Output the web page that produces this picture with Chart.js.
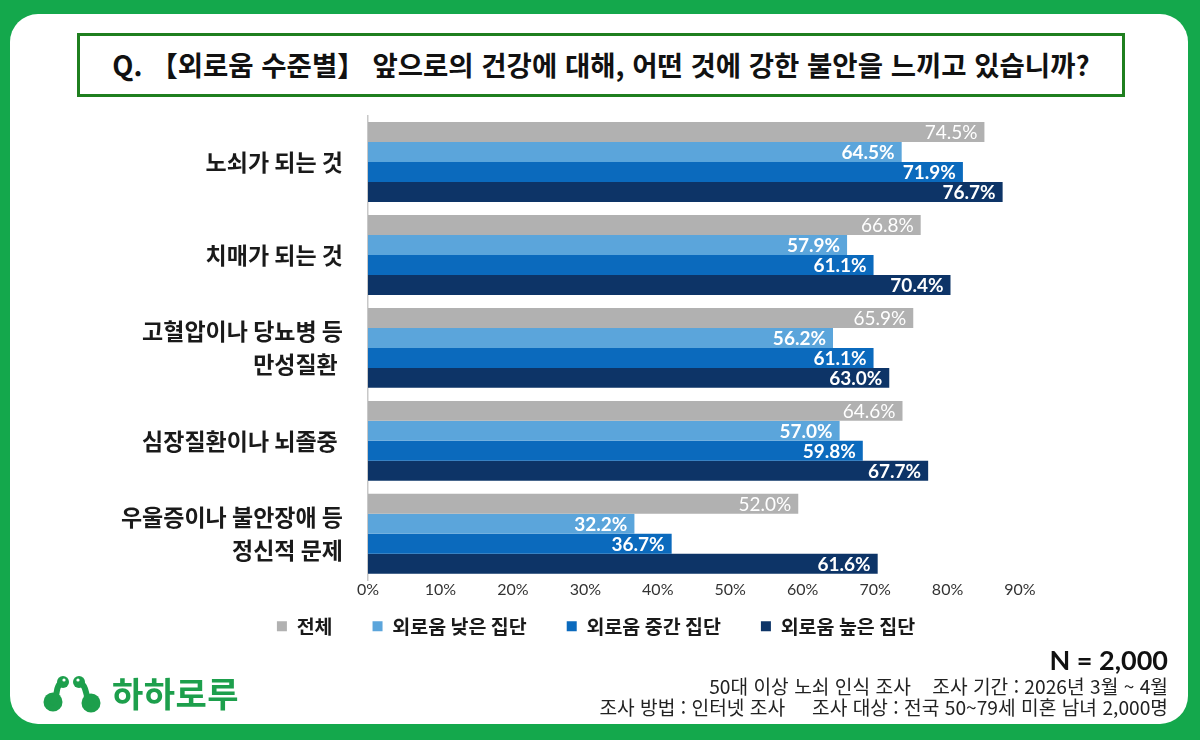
<!DOCTYPE html>
<html lang="ko">
<head>
<meta charset="utf-8">
<script src="https://cdn.jsdelivr.net/npm/chart.js@4.4.1/dist/chart.umd.min.js"></script>
<style>
  html, body { margin: 0; padding: 0; }
  body { width: 1200px; height: 740px; background: #14a84c; position: relative; overflow: hidden;
         font-family: "Noto Sans CJK KR", "Noto Sans", sans-serif; }
  .frame { position: absolute; left: 10px; top: 14px; width: 1178px; height: 710px; background: #fff; border-radius: 28px; }
  .qbox { position: absolute; left: 77px; top: 33px; width: 1042px; height: 58px; border: 3px solid #1f7f1f;
          display: flex; align-items: center; justify-content: center; }
  .qbox span { font-size: 27.5px; font-weight: 700; color: #111; white-space: nowrap; margin-top: -2px; }
  .chartwrap { position: absolute; left: 0; top: 100px; width: 1200px; height: 569px; }
  .logo { position: absolute; left: 40px; top: 668px; display: flex; align-items: center; }
  .logo span { font-size: 34px; font-weight: 700; color: #1d9f4c; margin-left: 8px; letter-spacing: 0.5px; }
  .meta { position: absolute; right: 32px; text-align: right; color: #222; white-space: pre; }
  .n { top: 643px; font-family: Lato, sans-serif; font-weight: 700; font-size: 27px; color: #111; }
  .l1 { top: 676px; font-size: 19.2px; line-height: 20px; }
  .l2 { top: 697px; font-size: 19.2px; line-height: 20px; }
</style>
</head>
<body>
<div class="frame"></div>
<div class="qbox"><span>Q. 【외로움 수준별】 앞으로의 건강에 대해, 어떤 것에 강한 불안을 느끼고 있습니까?</span></div>
<div class="chartwrap"><canvas id="mycanvas"></canvas></div>
<div class="logo">
  <svg width="64" height="42" viewBox="0 0 64 42">
    <g fill="#1d9f4c" stroke="#1d9f4c" stroke-linecap="round">
      <circle cx="13" cy="30" r="9.5" stroke="none"/>
      <path d="M21 11 C14 16 19 24 13 30" fill="none" stroke-width="6"/>
      <circle cx="23" cy="10" r="6" stroke="none"/>
      <circle cx="51" cy="31" r="9.5" stroke="none"/>
      <path d="M41 11 C48 16 44 24 51 31" fill="none" stroke-width="6"/>
      <circle cx="39" cy="10" r="6" stroke="none"/>
    </g>
    <circle cx="24" cy="8" r="1.6" fill="#fff"/>
    <circle cx="38" cy="8" r="1.6" fill="#fff"/>
  </svg>
  <span>하하로루</span>
</div>
<div class="meta n">N = 2,000</div>
<div class="meta l1">50대 이상 노쇠 인식 조사    조사 기간 : 2026년 3월 ~ 4월</div>
<div class="meta l2">조사 방법 : 인터넷 조사     조사 대상 : 전국 50~79세 미혼 남녀 2,000명</div>

<script>
var categories = [
    "노쇠가 되는 것",
    "치매가 되는 것",
    ["고혈압이나 당뇨병 등", "만성질환 "],
    "심장질환이나 뇌졸중 ",
    ["우울증이나 불안장애 등", "정신적 문제"]
];
var seriesNames = ["전체", "외로움 낮은 집단", "외로움 중간 집단", "외로움 높은 집단"];
var totalAll = [74.5, 66.8, 65.9, 64.6, 52.0];
var lowGroup = [64.5, 57.9, 56.2, 57.0, 32.2];
var midGroup = [71.9, 61.1, 61.1, 59.8, 36.7];
var highGroup = [76.7, 70.4, 63.0, 67.7, 61.6];
var tickLabels = ["0%", "10%", "20%", "30%", "40%", "50%", "60%", "70%", "80%", "90%"];

var colors = ["#b1b1b1", "#5ba5db", "#0b6abd", "#0d3467"];

// value labels at the inner end of each bar
var valueLabels = {
    id: 'valueLabels',
    afterLayout: function(chart) {
        // pull the legend row closer to the axis and centre it on the page
        chart.legend.top -= 23;
        chart.legend.bottom -= 23;
        chart.legend.left += 86;
        chart.legend.right += 86;
    },
    afterDatasetsDraw: function(chart) {
        var ctx = chart.ctx;
        chart.data.datasets.forEach(function(ds, i) {
            chart.getDatasetMeta(i).data.forEach(function(bar, j) {
                ctx.save();
                ctx.font = (i === 0 ? '400' : '700') + ' 19px Lato, sans-serif';
                ctx.fillStyle = '#fff';
                ctx.textAlign = 'right';
                ctx.textBaseline = 'middle';
                ctx.fillText(ds.data[j].toFixed(1) + '%', bar.x - 7, bar.y + 1);
                ctx.restore();
            });
        });
    }
};

var chartdata = {
    labels: categories,
    datasets: [totalAll, lowGroup, midGroup, highGroup].map(function(d, i) {
        return {
            label: seriesNames[i],
            data: d,
            backgroundColor: colors[i],
            borderWidth: 0,
            barPercentage: 1.0,
            categoryPercentage: 0.86,
            xAxisID: 'x'
        };
    })
};

var ctx = document.getElementById('mycanvas');
var chart = new Chart(ctx, {
    type: 'bar',
    data: chartdata,
    plugins: [valueLabels],
    options: {
        indexAxis: 'y',
        responsive: true,
        maintainAspectRatio: false,
        animation: false,
        layout: { padding: { top: 15.5, right: 180, left: 0, bottom: 0 } },
        scales: {
            x: { display: false, min: 0, max: 78.8 },
            x2: {
                type: 'linear', position: 'bottom', min: 0, max: 90,
                grid: { display: false, drawTicks: false },
                border: { display: false },
                ticks: {
                    stepSize: 10, padding: 0, color: '#333',
                    font: { family: 'Lato, sans-serif', size: 16 },
                    callback: function(v, idx) { return tickLabels[idx]; }
                }
            },
            y: {
                grid: { display: false, drawTicks: false },
                border: { color: '#c8c8c8', width: 1.5 },
                afterFit: function(scale) {
                    scale.width = 368;
                    scale.paddingTop = 0;
                    scale.paddingBottom = 0;
                },
                ticks: {
                    padding: 25, color: '#1a1a1a',
                    font: { family: '"Noto Sans CJK KR", sans-serif', size: 23, weight: '700', lineHeight: 1.45 }
                }
            }
        },
        plugins: {
            legend: {
                position: 'bottom',
                labels: {
                    boxWidth: 10, boxHeight: 10, padding: 40, color: '#1a1a1a',
                    font: { family: '"Noto Sans CJK KR", sans-serif', size: 19.5, weight: '700' }
                }
            },
            tooltip: { enabled: false }
        }
    }
});
</script>
</body>
</html>
